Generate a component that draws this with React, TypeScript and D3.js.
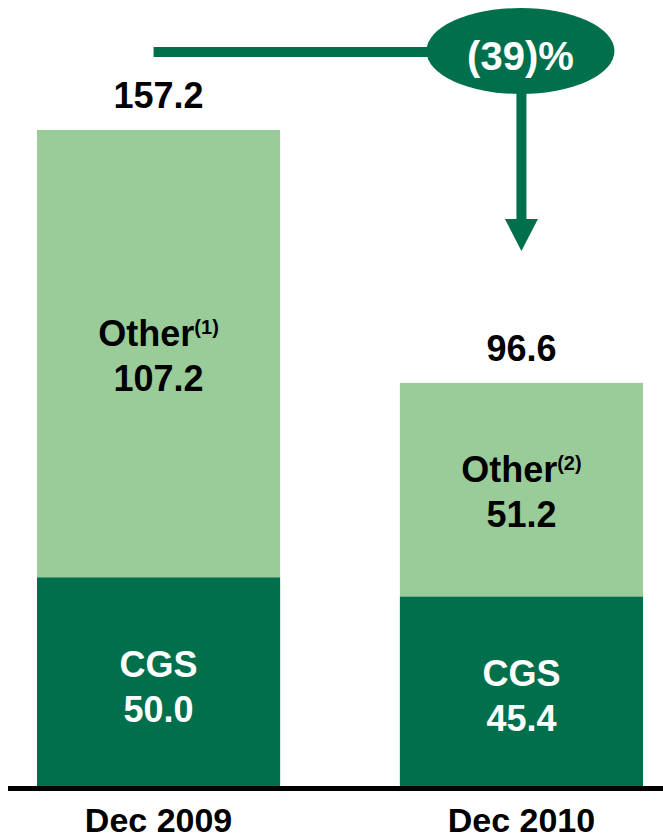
import React from "react";
import * as d3 from "d3";

// chart data
const categories = ["Dec 2009", "Dec 2010"];
const cgsValues = [50.0, 45.4];
const otherValues = [107.2, 51.2];
const otherNotes = ["(1)", "(2)"];
const totals = [157.2, 96.6];

const W = 663, H = 837;
const DARK = "#00704C";
const LIGHT = "#99CC99";
const FONT = "'Liberation Sans', Arial, Helvetica, sans-serif";

const x = d3.scaleBand<string>().domain(categories).range([37, 643]).paddingInner(0.33).paddingOuter(0);
const y = d3.scaleLinear().domain([0, 157.2]).range([786, 130]);

const App = () => {
  const bw = x.bandwidth();
  const cx = (c: string) => (x(c) as number) + bw / 2;

  const change = Math.round(((totals[1] - totals[0]) / totals[0]) * 100);
  const changeLabel = change < 0 ? `(${Math.abs(change)})%` : `${change}%`;

  // annotation geometry
  const lineY = 52;
  const ellX = cx(categories[1]) - 1, ellY = 51, rx = 94, ry = 43;
  const arrowX = cx(categories[1]);
  const headTop = 219, headTip = 251;

  return (
    <svg width={W} height={H} style={{ position: "absolute", left: 0, top: 0, background: "#fff" }} fontFamily={FONT} fontWeight="bold">
      {categories.map((c, i) => {
        const cgsTop = y(cgsValues[i]);
        const otherTop = y(cgsValues[i] + otherValues[i]);
        const cgsMid = (y(0) + cgsTop) / 2;
        const otherMid = (cgsTop + otherTop) / 2;
        return (
          <g key={c}>
            <rect x={x(c)} y={otherTop} width={bw} height={cgsTop - otherTop} fill={LIGHT} />
            <rect x={x(c)} y={cgsTop} width={bw} height={y(0) - cgsTop} fill={DARK} />

            <text x={cx(c)} y={otherMid - 8} textAnchor="middle" fontSize={36} fill="#000">
              Other<tspan fontSize={20} dy={-12}>{otherNotes[i]}</tspan>
            </text>
            <text x={cx(c)} y={otherMid + 37} textAnchor="middle" fontSize={36} fill="#000">
              {otherValues[i].toFixed(1)}
            </text>

            <text x={cx(c)} y={cgsMid - 5} textAnchor="middle" fontSize={36} fill="#fff">CGS</text>
            <text x={cx(c)} y={cgsMid + 40} textAnchor="middle" fontSize={36} fill="#fff">
              {cgsValues[i].toFixed(1)}
            </text>

            <text x={cx(c)} y={y(totals[i]) - 22} textAnchor="middle" fontSize={36} fill="#000">
              {totals[i].toFixed(1)}
            </text>

            <text x={cx(c)} y={832} textAnchor="middle" fontSize={34} fill="#000">{c}</text>
          </g>
        );
      })}

      {/* baseline */}
      <line x1={8} x2={W} y1={788.5} y2={788.5} stroke="#000" strokeWidth={5} />

      {/* change arrow */}
      <line x1={cx(categories[0]) - 5} x2={ellX} y1={lineY} y2={lineY} stroke={DARK} strokeWidth={10} />
      <line x1={arrowX} x2={arrowX} y1={ellY} y2={headTop + 2} stroke={DARK} strokeWidth={10} />
      <path d={`M${arrowX - 16.5},${headTop} L${arrowX + 16.5},${headTop} L${arrowX},${headTip} Z`} fill={DARK} />
      <ellipse cx={ellX} cy={ellY} rx={rx} ry={ry} fill={DARK} />
      <text x={ellX} y={70} textAnchor="middle" fontSize={40} fill="#fff">{changeLabel}</text>
    </svg>
  );
};

export default App;
